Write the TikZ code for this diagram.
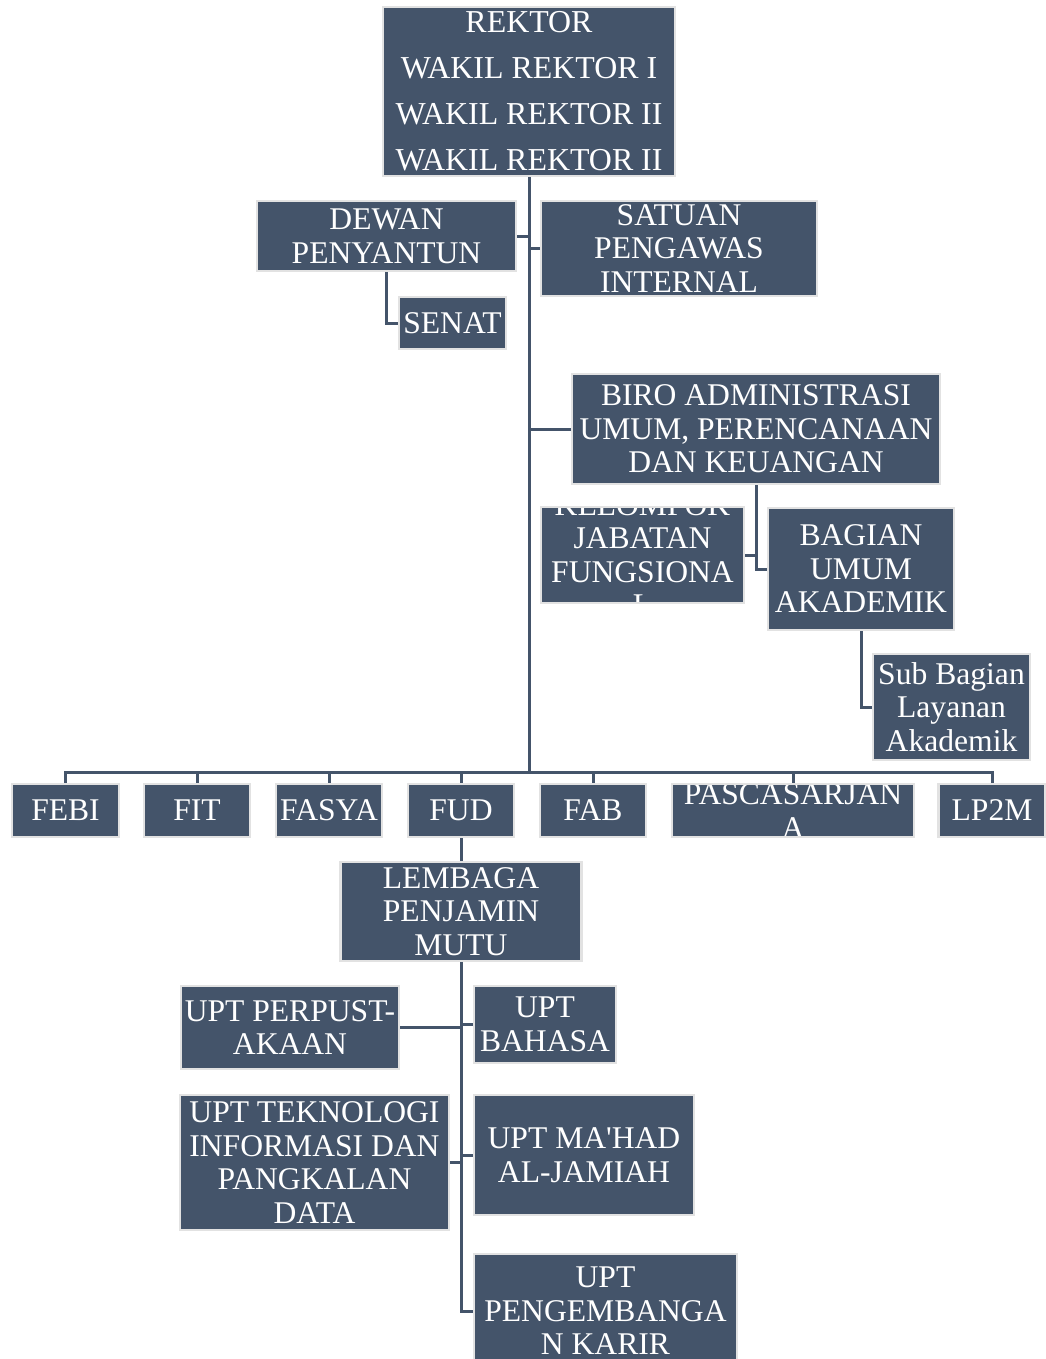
\documentclass[tikz,border=0pt]{standalone}
\usepackage{fontspec}
\setmainfont{Liberation Serif}
\definecolor{boxfill}{HTML}{44546A}
\definecolor{boxline}{HTML}{E2E2E2}
\definecolor{conn}{HTML}{44546A}
\tikzset{
  orgbox/.style={draw=boxline, line width=2.2pt, fill=boxfill, text=white,
    inner sep=0pt, align=center, font=\fontsize{31.6}{33.5}\selectfont},
  cliptext/.style={text=white, inner sep=0pt, align=center, font=\fontsize{31.6}{33.5}\selectfont},
  link/.style={draw=conn, line width=3pt}
}
\begin{document}
\begin{tikzpicture}[x=1pt,y=-1pt]
\clip (0,0) rectangle (1046,1359);
\fill[white] (0,0) rectangle (1046,1359);
% top
\node[orgbox, minimum width=292pt, minimum height=169pt, font=\fontsize{31.9}{46}\selectfont] (rek) at (529,91.5)
  {REKTOR\\WAKIL REKTOR I\\WAKIL REKTOR II\\WAKIL REKTOR II};
\node[orgbox, minimum width=259pt, minimum height=70pt] (dew) at (386.5,236) {DEWAN\\PENYANTUN};
\node[orgbox, minimum width=276pt, minimum height=95pt] (sat) at (679,248.5) {SATUAN\\PENGAWAS\\INTERNAL};
\node[orgbox, minimum width=107pt, minimum height=52pt] (sen) at (452.5,323) {SENAT};
\node[orgbox, minimum width=368pt, minimum height=110pt] (biro) at (756,429) {BIRO ADMINISTRASI\\UMUM, PERENCANAAN\\DAN KEUANGAN};
\node[orgbox, minimum width=203pt, minimum height=96pt,
  path picture={\node[cliptext] at (path picture bounding box.center) {KELOMPOK\\JABATAN\\FUNGSIONA\\L};}] (kel) at (642.5,555) {};
\node[orgbox, minimum width=186pt, minimum height=122pt] (bag) at (861,569) {BAGIAN\\UMUM\\AKADEMIK};
\node[orgbox, minimum width=157pt, minimum height=106pt] (sub) at (951.5,707) {Sub Bagian\\Layanan\\Akademik};
% faculties
\node[orgbox, minimum width=107pt, minimum height=53pt] (febi) at (65.5,810.5) {FEBI};
\node[orgbox, minimum width=106pt, minimum height=53pt] (fit) at (197,810.5) {FIT};
\node[orgbox, minimum width=106pt, minimum height=53pt] (fasya) at (329,810.5) {FASYA};
\node[orgbox, minimum width=106pt, minimum height=53pt] (fud) at (461,810.5) {FUD};
\node[orgbox, minimum width=106pt, minimum height=53pt] (fab) at (593,810.5) {FAB};
\node[orgbox, minimum width=242pt, minimum height=53pt,
  path picture={\node[cliptext] at ([yshift=-0.5pt]path picture bounding box.center) {PASCASARJAN\\A};}] (pasca) at (793,810.5) {};
\node[orgbox, minimum width=107pt, minimum height=53pt] (lp2m) at (992,810.5) {LP2M};
% lower
\node[orgbox, minimum width=241pt, minimum height=99pt] (lpm) at (461,911.5) {LEMBAGA\\PENJAMIN\\MUTU};
\node[orgbox, minimum width=218pt, minimum height=83pt] (perp) at (290,1027.5) {UPT PERPUST-\\AKAAN};
\node[orgbox, minimum width=142pt, minimum height=77pt] (bah) at (545,1024.5) {UPT\\BAHASA};
\node[orgbox, minimum width=269pt, minimum height=135pt] (tek) at (314.5,1162.5) {UPT TEKNOLOGI\\INFORMASI DAN\\PANGKALAN\\DATA};
\node[orgbox, minimum width=220pt, minimum height=120pt] (mah) at (584,1155) {UPT MA\textquotesingle HAD\\AL-JAMIAH};
\node[orgbox, minimum width=263pt, minimum height=114pt] (kar) at (605.5,1311) {UPT\\PENGEMBANGA\\N KARIR};
% connectors
\coordinate (bus) at (529,772);
\draw[link] (rek.south) -- (bus);
\draw[link] (dew.east) -- (dew.east -| rek.south);
\draw[link] (sat.west) -- (sat.west -| rek.south);
\draw[link] (dew.south) |- (sen.west);
\draw[link] (biro.west) -- (biro.west -| rek.south);
\draw[link] (biro.south) |- (bag.west);
\draw[link] (kel.east) -- (kel.east -| biro.south);
\draw[link] (bag.south) |- (sub.west);
\draw[link] (febi.north) |- (bus) -| (lp2m.north);
\draw[link] (fit.north) -- (fit.north |- bus);
\draw[link] (fasya.north) -- (fasya.north |- bus);
\draw[link] (fud.north) -- (fud.north |- bus);
\draw[link] (fab.north) -- (fab.north |- bus);
\draw[link] (pasca.north) -- (pasca.north |- bus);
\draw[link] (fud.south) -- (lpm.north);
\draw[link] (lpm.south) |- (kar.west);
\draw[link] (perp.east) -- (perp.east -| lpm.south);
\draw[link] (bah.west) -- (bah.west -| lpm.south);
\draw[link] (tek.east) -- (tek.east -| lpm.south);
\draw[link] (mah.west) -- (mah.west -| lpm.south);
\end{tikzpicture}
\end{document}
